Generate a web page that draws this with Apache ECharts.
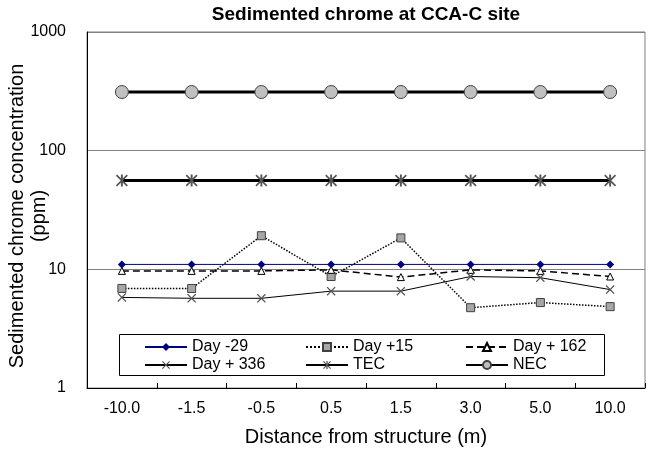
<!DOCTYPE html>
<html>
<head>
<meta charset="utf-8">
<script src="https://cdn.jsdelivr.net/npm/echarts@6/dist/echarts.min.js"></script>
<style>html,body{margin:0;padding:0;background:#fff;}#c{width:649px;height:460px;}</style>
</head>
<body>
<div id="c"></div>
<script>
const categories = ['-10.0','-1.5','-0.5','0.5','1.5','3.0','5.0','10.0'];
const dayM29 = [11, 11, 11, 11, 11, 11, 11, 11];
const dayP15 = [6.9, 6.9, 19.2, 8.7, 18.4, 4.75, 5.25, 4.85];
const dayP162 = [9.7, 9.7, 9.7, 9.9, 8.6, 9.9, 9.7, 8.7];
const dayP336 = [5.8, 5.7, 5.7, 6.55, 6.55, 8.7, 8.5, 6.75];
const tec = [56, 56, 56, 56, 56, 56, 56, 56];
const nec = [312, 312, 312, 312, 312, 312, 312, 312];
const yTicks = [1, 10, 100, 1000];
const yTitle = 'Sedimented chrome concentration\n(ppm)';

const FONT = 'Liberation Sans, Arial, sans-serif';
const xPath = 'path://M0,1L1,0L5,4L9,0L10,1L6,5L10,9L9,10L5,6L1,10L0,9L4,5Z';
const starPath = 'path://M0,1L1,0L5,4L9,0L10,1L6,5L10,9L9,10L5,6L1,10L0,9L4,5Z M4.2,0L5.8,0L5.8,10L4.2,10Z';

const chart = echarts.init(document.getElementById('c'), null, {renderer: 'canvas'});

function leg(name, left, top) {
  return {
    data: [name], left: left, top: top, orient: 'horizontal',
    itemWidth: 42, itemHeight: 10, itemGap: 0, padding: 0,
    textStyle: {fontFamily: FONT, fontSize: 16, color: '#000', padding: [0,0,0,0]},
    selectedMode: false
  };
}

const option = {
  animation: false,
  backgroundColor: '#fff',
  title: {
    text: 'Sedimented chrome at CCA-C site',
    left: 361, top: 0, textAlign: 'center',
    textStyle: {fontFamily: FONT, fontSize: 19, fontWeight: 'bold', color: '#000'}
  },
  grid: {left: 87, right: 4, top: 32, bottom: 72, show: true, borderColor: '#808080', borderWidth: 1,
         containLabel: false, outerBoundsMode: 'none'},
  legend: [
    leg('Day -29', 144, 339),
    leg('Day +15', 305, 339),
    leg('Day + 162', 465, 339),
    leg('Day + 336', 144, 357),
    leg('TEC', 305, 357),
    leg('NEC', 465, 357)
  ],
  graphic: [{
    type: 'rect', z: 3,
    shape: {x: 119.5, y: 334.5, width: 485, height: 41},
    style: {fill: '#fff', stroke: '#000', lineWidth: 1}
  }, {
    type: 'text', z: 5, x: 28, y: 216, rotation: Math.PI / 2,
    style: {text: yTitle, font: '20px ' + FONT, fill: '#000', align: 'center', verticalAlign: 'middle', lineHeight: 22}
  }],
  xAxis: {
    type: 'category', data: categories, boundaryGap: true,
    axisLine: {lineStyle: {color: '#000', width: 1}},
    axisTick: {show: true, inside: true, length: 5, lineStyle: {color: '#000'}},
    axisLabel: {fontFamily: FONT, fontSize: 16, color: '#000', margin: 13},
    name: 'Distance from structure (m)', nameLocation: 'middle', nameGap: 39,
    nameTextStyle: {fontFamily: FONT, fontSize: 20, color: '#000'}
  },
  yAxis: {
    type: 'log', logBase: 10, min: yTicks[0], max: yTicks[yTicks.length - 1],
    axisLine: {show: true, lineStyle: {color: '#000', width: 1}},
    axisTick: {show: false},
    splitLine: {show: true, lineStyle: {color: '#808080', width: 1}},
    minorTick: {show: false},
    axisLabel: {fontFamily: FONT, fontSize: 16, color: '#000', margin: 21,
                formatter: function (v) { return String(Math.round(v)); }}
  },
  series: [
    {name: 'Day -29', type: 'line', data: dayM29, symbol: 'diamond', symbolSize: 8,
     itemStyle: {color: '#000080'}, lineStyle: {color: '#000080', width: 1}, z: 5},
    {name: 'Day +15', type: 'line', data: dayP15, symbol: 'rect', symbolSize: 8,
     itemStyle: {color: '#a6a6a6', borderColor: '#404040', borderWidth: 1},
     lineStyle: {color: '#000', width: 1.5, type: 'dotted'}, z: 4},
    {name: 'Day + 162', type: 'line', data: dayP162, symbol: 'triangle', symbolSize: 7,
     itemStyle: {color: '#fff', borderColor: '#000', borderWidth: 1},
     lineStyle: {color: '#000', width: 1.5, type: [7, 4]}, z: 4},
    {name: 'Day + 336', type: 'line', data: dayP336, symbol: xPath, symbolSize: 9,
     itemStyle: {color: '#555', borderColor: '#555', borderWidth: 0},
     lineStyle: {color: '#000', width: 1}, z: 4},
    {name: 'TEC', type: 'line', data: tec, symbol: starPath, symbolSize: 12,
     itemStyle: {color: '#555', borderColor: '#555', borderWidth: 0},
     lineStyle: {color: '#000', width: 3}, z: 4},
    {name: 'NEC', type: 'line', data: nec, symbol: 'circle', symbolSize: 13,
     itemStyle: {color: '#c0c0c0', borderColor: '#404040', borderWidth: 1},
     lineStyle: {color: '#000', width: 3}, z: 4}
  ]
};
chart.setOption(option);
</script>
</body>
</html>
